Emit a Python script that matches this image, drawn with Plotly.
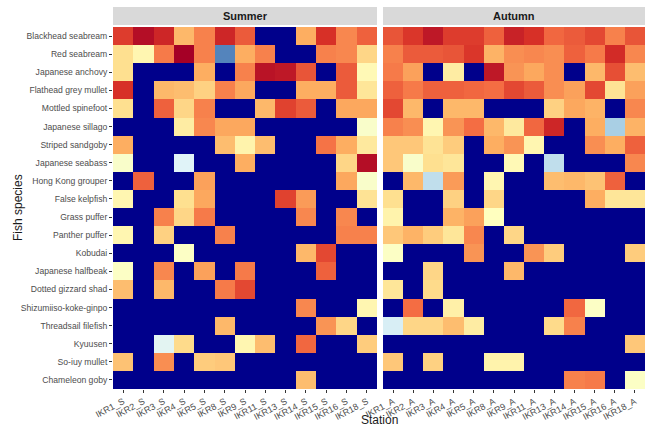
import plotly.graph_objects as go

species = ["Blackhead seabream", "Red seabream", "Japanese anchovy", "Flathead grey mullet",
           "Mottled spinefoot", "Japanese sillago", "Striped sandgoby", "Japanese seabass",
           "Hong Kong grouper", "False kelpfish", "Grass puffer", "Panther puffer", "Kobudai",
           "Japanese halfbeak", "Dotted gizzard shad", "Shizumiiso-koke-ginpo",
           "Threadsail filefish", "Kyuusen", "So-iuy mullet", "Chameleon goby"]

stations_summer = ["IKR1_S", "IKR2_S", "IKR3_S", "IKR4_S", "IKR5_S", "IKR8_S", "IKR9_S",
                   "IKR11_S", "IKR13_S", "IKR14_S", "IKR15_S", "IKR16_S", "IKR18_S"]
stations_autumn = ["IKR1_A", "IKR2_A", "IKR3_A", "IKR4_A", "IKR5_A", "IKR8_A", "IKR9_A",
                   "IKR11_A", "IKR13_A", "IKR14_A", "IKR15_A", "IKR16_A", "IKR18_A"]

# relative abundance score (0 = absent)
summer = [
    [7.8, 8.7, 8.2, 5.8, 6.7, 8.2, 7.3, 0, 0, 6.0, 8.0, 6.6, 7.2],
    [5.0, 4.3, 6.8, 9.0, 6.7, 1.2, 6.0, 6.7, 0, 0, 6.7, 6.6, 5.2],
    [5.0, 0, 0, 0, 6.0, 0, 6.7, 8.6, 8.5, 7.4, 0, 7.3, 4.2],
    [8.0, 0, 5.8, 5.7, 5.3, 6.7, 6.1, 0, 0, 6.0, 6.0, 7.3, 4.8],
    [5.0, 0, 7.2, 5.2, 6.7, 0, 0, 5.8, 7.7, 7.3, 0, 6.1, 6.1],
    [0, 0, 0, 4.6, 6.6, 6.1, 6.1, 0, 0, 0, 0, 0, 3.8],
    [6.0, 0, 0, 0, 0, 5.7, 4.4, 5.7, 0, 0, 6.9, 6.0, 4.7],
    [3.8, 0, 0, 3.0, 0, 0, 6.0, 0, 0, 0, 0, 5.2, 8.7],
    [0, 7.2, 0, 0, 6.2, 0, 0, 0, 0, 0, 0, 6.1, 3.8],
    [4.3, 0, 0, 5.0, 6.1, 0, 0, 0, 7.7, 6.3, 0, 0, 4.9],
    [0, 0, 6.7, 5.2, 6.8, 0, 0, 0, 0, 6.6, 0, 6.6, 0],
    [4.3, 0, 5.3, 0, 0, 6.7, 0, 0, 0, 0, 0, 6.7, 6.7],
    [0, 0, 0, 3.9, 0, 0, 0, 0, 0, 5.8, 7.6, 0, 0],
    [3.9, 0, 6.6, 0, 6.2, 0, 6.8, 0, 0, 0, 7.2, 0, 0],
    [5.7, 0, 5.8, 0, 0, 6.8, 7.6, 0, 0, 0, 0, 0, 0],
    [0, 0, 0, 0, 0, 0, 0, 0, 0, 6.6, 0, 0, 4.3],
    [0, 0, 0, 0, 0, 5.8, 0, 0, 0, 0, 6.4, 5.2, 0],
    [0, 0, 3.1, 5.1, 0, 0, 4.3, 5.7, 0, 7.1, 0, 0, 5.4],
    [5.6, 0, 6.5, 0, 5.4, 5.5, 0, 0, 0, 0, 0, 0, 0],
    [0, 0, 0, 0, 0, 0, 0, 0, 0, 5.7, 0, 0, 0],
]

autumn = [
    [7.4, 7.9, 8.5, 7.8, 7.8, 7.2, 8.3, 8.0, 7.1, 7.3, 7.6, 6.7, 7.4],
    [6.7, 7.3, 7.3, 7.4, 7.9, 5.9, 6.5, 6.6, 6.5, 7.2, 6.8, 8.1, 6.6],
    [6.8, 6.2, 0, 4.6, 0, 8.5, 6.4, 6.1, 6.5, 0, 5.8, 7.5, 5.7],
    [7.2, 6.8, 7.2, 7.2, 7.1, 7.0, 7.6, 7.3, 6.5, 6.2, 7.6, 4.9, 6.2],
    [7.6, 5.8, 0, 5.8, 5.8, 0, 0, 0, 5.3, 6.1, 5.9, 0, 6.6],
    [6.7, 6.5, 4.3, 6.4, 7.0, 5.8, 4.7, 7.1, 8.2, 0, 6.0, 2.3, 5.9],
    [5.5, 5.5, 4.9, 5.4, 0, 6.0, 6.4, 4.3, 0, 0, 6.5, 6.0, 7.2],
    [5.5, 3.8, 5.0, 4.8, 0, 0, 4.2, 0, 2.6, 0, 0, 0, 6.6],
    [0, 5.8, 2.6, 6.3, 0, 4.3, 0, 0, 5.7, 5.8, 5.6, 7.2, 0],
    [5.0, 0, 0, 5.3, 0, 5.2, 0, 0, 0, 0, 6.0, 4.8, 4.8],
    [4.4, 0, 0, 5.9, 6.2, 4.0, 0, 0, 0, 0, 0, 0, 0],
    [5.5, 5.9, 5.4, 4.8, 6.6, 0, 5.2, 0, 0, 0, 0, 0, 0],
    [3.9, 0, 0, 0, 6.4, 0, 0, 6.4, 5.4, 0, 0, 0, 5.4],
    [0, 0, 5.2, 0, 0, 0, 5.8, 0, 0, 0, 0, 0, 0],
    [4.8, 0, 5.1, 0, 0, 0, 0, 0, 0, 0, 0, 0, 0],
    [0, 7.0, 0, 4.5, 0, 0, 0, 0, 0, 7.1, 3.9, 0, 0],
    [2.9, 5.2, 5.2, 5.7, 4.6, 0, 0, 0, 5.1, 6.7, 0, 0, 0],
    [0, 0, 0, 0, 0, 0, 0, 0, 0, 0, 0, 0, 5.5],
    [5.5, 0, 5.3, 0, 0, 4.4, 4.4, 0, 0, 0, 0, 0, 0],
    [0, 0, 0, 0, 0, 0, 0, 0, 0, 6.7, 6.8, 0, 3.9],
]

navy = "#00008B"
cscale = [
    [0.0, navy], [0.105, navy],
    [1 / 9, "#4575b4"], [2 / 9, "#91bfdb"], [3 / 9, "#e0f3f8"], [4 / 9, "#ffffbf"],
    [5 / 9, "#fee090"], [6 / 9, "#fdae61"], [7 / 9, "#f46d43"], [8 / 9, "#d73027"],
    [1.0, "#a50026"],
]

W, H = 645, 429
fig = go.Figure()
common = dict(y=species, colorscale=cscale, zmin=0, zmax=9, showscale=False, xgap=0, ygap=0)
fig.add_trace(go.Heatmap(z=summer, x=stations_summer, xaxis="x", yaxis="y", **common))
fig.add_trace(go.Heatmap(z=autumn, x=stations_autumn, xaxis="x2", yaxis="y2", **common))

xl1, xr1 = 113 / W, 377 / W
xl2, xr2 = 383 / W, 645 / W
yb, yt = (H - 389) / H, (H - 27) / H
sb, st = (H - 25) / H, (H - 7) / H

ytickfont = dict(family="Liberation Sans, Arial, sans-serif", size=8.6, color="#4d4d4d")
xtickfont = dict(family="Liberation Sans, Arial, sans-serif", size=9, color="#4d4d4d")
xax = dict(tickangle=-28, tickfont=xtickfont, ticks="outside", ticklen=3, tickcolor="#333333",
           showgrid=False, zeroline=False, showline=False, fixedrange=True, automargin=False)
fig.update_layout(
    template="none",
    width=W, height=H,
    margin=dict(l=0, r=0, t=0, b=0, autoexpand=False),
    paper_bgcolor="white", plot_bgcolor=navy,
    xaxis=dict(domain=[xl1, xr1], anchor="y", **xax),
    xaxis2=dict(domain=[xl2, xr2], anchor="y2", **xax),
    yaxis=dict(domain=[yb, yt], anchor="x", autorange="reversed", tickfont=ytickfont,
               ticks="outside", ticklen=3, tickcolor="#333333", showgrid=False, zeroline=False,
               automargin=False),
    yaxis2=dict(domain=[yb, yt], anchor="x2", matches="y", showticklabels=False, ticks="",
                showgrid=False, zeroline=False, automargin=False),
    font=dict(family="Liberation Sans, Arial, sans-serif"),
    shapes=[
        dict(type="rect", xref="paper", yref="paper", x0=xl1, x1=xr1, y0=sb, y1=st,
             fillcolor="#d9d9d9", line=dict(width=0), layer="below"),
        dict(type="rect", xref="paper", yref="paper", x0=xl2, x1=xr2, y0=sb, y1=st,
             fillcolor="#d9d9d9", line=dict(width=0), layer="below"),
    ],
    annotations=[
        dict(text="<b>Summer</b>", xref="paper", yref="paper", x=(xl1 + xr1) / 2, y=(sb + st) / 2,
             xanchor="center", yanchor="middle", showarrow=False,
             font=dict(size=11, color="#1a1a1a")),
        dict(text="<b>Autumn</b>", xref="paper", yref="paper", x=(xl2 + xr2) / 2, y=(sb + st) / 2,
             xanchor="center", yanchor="middle", showarrow=False,
             font=dict(size=11, color="#1a1a1a")),
        dict(text="Station", xref="paper", yref="paper", x=(xl1 + xr2) / 2, y=0,
             xanchor="center", yanchor="bottom", showarrow=False,
             font=dict(size=12, color="#1a1a1a")),
        dict(text="Fish species", xref="paper", yref="paper", x=9 / W, y=(yb + yt) / 2,
             xanchor="left", yanchor="middle", textangle=-90, showarrow=False,
             font=dict(size=12, color="#1a1a1a")),
    ],
)

fig.write_html("out.html", config={"displayModeBar": False},
               post_script="document.body.style.margin='0';document.body.style.overflow='hidden';")
